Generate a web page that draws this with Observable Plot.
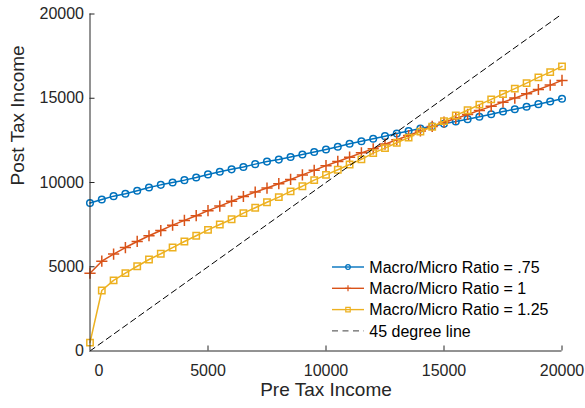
<!DOCTYPE html>
<html><head><meta charset="utf-8">
<script src="https://cdn.jsdelivr.net/npm/d3@7"></script>
<script src="https://cdn.jsdelivr.net/npm/@observablehq/plot@0.6"></script>
<style>body{margin:0;background:#fff}</style>
</head><body><div id="chart"></div>
<script>
// ---- data ----
const preTax = [0,500,1000,1500,2000,2500,3000,3500,4000,4500,5000,5500,6000,6500,7000,7500,8000,8500,9000,9500,10000,
  10500,11000,11500,12000,12500,13000,13500,14000,14500,15000,15500,16000,16500,17000,17500,18000,18500,19000,19500,20000];
const ratio075 = [8780,8990,9190,9330,9510,9700,9860,10000,10140,10300,10480,10640,10780,10920,11090,11240,11360,11510,11660,11810,11960,
  12120,12300,12450,12600,12750,12910,13050,13200,13340,13480,13620,13760,13900,14050,14210,14350,14500,14650,14810,14970];
const ratio1 = [4620,5330,5750,6140,6500,6840,7150,7470,7750,8030,8330,8600,8890,9170,9430,9670,9930,10180,10450,10720,11000,
  11250,11500,11760,12000,12280,12540,12790,13060,13330,13580,13800,14040,14280,14520,14770,15010,15270,15520,15780,16060];
const ratio125 = [500,3590,4190,4620,5030,5430,5770,6140,6500,6840,7190,7510,7820,8180,8500,8830,9130,9470,9780,10140,10450,
  10760,11070,11370,11740,12040,12360,12660,13020,13310,13640,13980,14290,14620,14930,15250,15570,15900,16240,16550,16890];
const line45 = [0, 20000];
const xTicks = [0, 5000, 10000, 15000, 20000];
const yTicks = [0, 5000, 10000, 15000, 20000];
const seriesNames = ["Macro/Micro Ratio = .75", "Macro/Micro Ratio = 1", "Macro/Micro Ratio = 1.25", "45 degree line"];
const seriesColors = ["#0072BD", "#D95319", "#EDB120", "#000000"];
const seriesSymbols = ["circle", "plus", "square", null];
const xLabel = "Pre Tax Income";
const yLabel = "Post Tax Income";

// ---- layout ----
const W = 585, H = 408, mL = 89.5, mR = 23.5, mT = 13.5, mB = 57.5;
const plotW = W - mL - mR, plotH = H - mT - mB;
const axisColor = "#262626";
const font = "'Liberation Sans', Arial, Helvetica, sans-serif";

const seriesVals = [ratio075, ratio1, ratio125];
const symbolR = {circle: 3.3, plus: 3.7, square: 3.6};

const marks = [];
seriesVals.forEach((vals, k) => {
  const rows = preTax.map((x, i) => ({x, y: vals[i]}));
  marks.push(Plot.line(rows, {x: "x", y: "y", stroke: seriesColors[k], strokeWidth: 1.5}));
  marks.push(Plot.dot(rows, {x: "x", y: "y", symbol: seriesSymbols[k], r: symbolR[seriesSymbols[k]],
    stroke: seriesColors[k], fill: "none", strokeWidth: 1.5}));
});
marks.push(Plot.line(line45.map(v => ({x: v, y: v})), {x: "x", y: "y", stroke: "#000", strokeWidth: 1, strokeDasharray: "6,4"}));

const fmt = d => String(d);
const chart = Plot.plot({
  width: W, height: H,
  marginLeft: mL, marginRight: mR, marginTop: mT, marginBottom: mB,
  style: {fontFamily: font, fontSize: "16px", color: axisColor, background: "#fff", overflow: "visible"},
  x: {domain: [0, 20000]},
  y: {domain: [0, 20000]},
  marks: [
    ...marks,
    Plot.ruleX([0], {stroke: axisColor, strokeWidth: 1}),
    Plot.ruleY([0], {stroke: axisColor, strokeWidth: 1}),
    Plot.tickX(xTicks.slice(1), {x: d => d, stroke: axisColor, insetTop: plotH - 5}),
    Plot.tickY(yTicks.slice(1), {y: d => d, stroke: axisColor, insetRight: plotW - 5}),
    Plot.axisX(xTicks.slice(1), {tickSize: 0, tickPadding: 14, label: null, fill: axisColor, tickFormat: fmt}),
    Plot.axisX(xTicks.slice(0, 1), {tickSize: 0, tickPadding: 14, label: null, dx: 9, fill: axisColor, tickFormat: fmt}),
    Plot.axisY(yTicks, {tickSize: 0, tickPadding: 6, label: null, fill: axisColor, tickFormat: fmt}),
    Plot.text([xLabel], {frameAnchor: "bottom", dy: 44.5, fontSize: 19, fill: axisColor}),
    Plot.text([yLabel], {frameAnchor: "left", rotate: -90, dx: -72.5, dy: 3, fontSize: 19, fill: axisColor})
  ]
});
document.getElementById("chart").appendChild(chart);

// ---- legend (inside plot, lower right) ----
const svg = d3.select(chart);
const lg = svg.append("g").attr("font-family", font).attr("font-size", 16).attr("text-anchor", "start");
const legY0 = 267, legStep = 21.3, lx0 = 332, lx1 = 364, ltx = 369.3;
const legR = {circle: 2.3, plus: 2.1, square: 2.5};
seriesNames.forEach((name, i) => {
  const y = legY0 + i * legStep;
  const row = lg.append("g");
  row.append("line").attr("x1", lx0).attr("x2", lx1).attr("y1", y).attr("y2", y)
    .attr("stroke", seriesColors[i]).attr("stroke-width", i === 3 ? 1 : 1.4)
    .attr("stroke-dasharray", i === 3 ? "6,4.5" : null)
    .attr("opacity", i === 3 ? 0.75 : 1);
  const sym = seriesSymbols[i];
  if (sym) {
    const t = {circle: d3.symbolCircle, plus: d3.symbolPlus, square: d3.symbolSquare}[sym];
    const r = legR[sym];
    row.append("path").attr("d", d3.symbol(t, Math.PI * r * r)())
      .attr("transform", `translate(${(lx0 + lx1) / 2},${y})`)
      .attr("fill", "none").attr("stroke", seriesColors[i]).attr("stroke-width", 1.2);
  }
  row.append("text").attr("x", ltx).attr("y", y).attr("dy", "0.36em").attr("text-anchor", "start")
    .attr("fill", "#000").text(name);
});
</script>
</body></html>
